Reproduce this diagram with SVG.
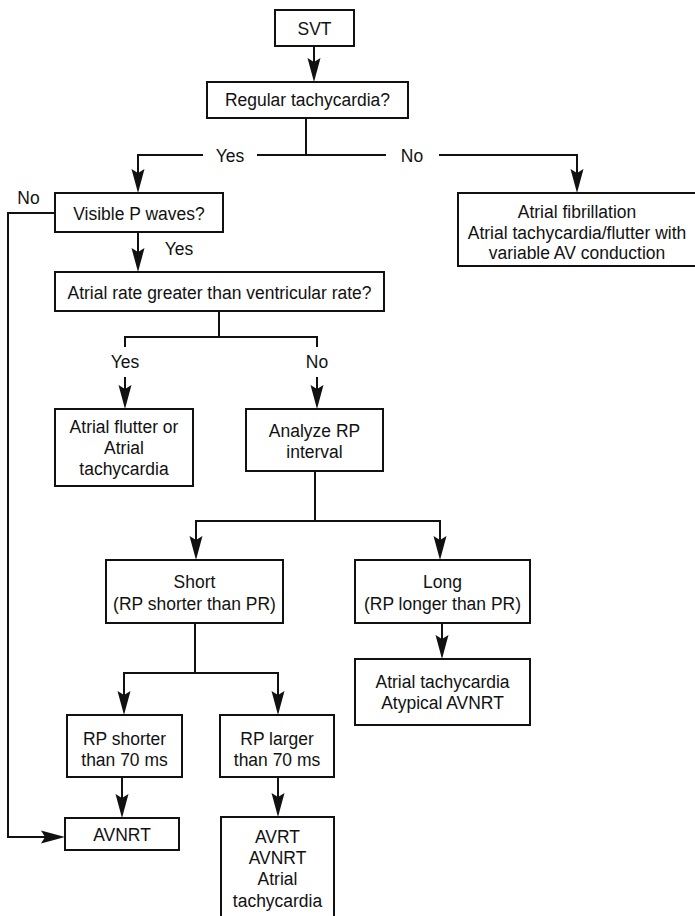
<svg xmlns="http://www.w3.org/2000/svg" width="695" height="916" viewBox="0 0 695 916">
<style>
rect.box{fill:#fff;stroke:#111;stroke-width:2}
path.c{fill:none;stroke:#111;stroke-width:2}
text{font-family:"Liberation Sans",Arial,Helvetica,sans-serif;font-size:19px;text-anchor:middle;fill:#111}
</style>
<defs>
<marker id="ah" viewBox="-16 -8 28 16" refX="0" refY="0" markerWidth="28" markerHeight="16" markerUnits="userSpaceOnUse" orient="auto">
<path d="M10,0 L-14,-6.5 L-10,0 L-14,6.5 Z" fill="#111"/>
</marker>
</defs>
<rect width="695" height="916" fill="#fff"/>
<g id="connectors">
<path class="c" d="M314,46 V72" marker-end="url(#ah)"/>
<path class="c" d="M306,118 V155"/>
<path class="c" d="M203,155 H138 V183" marker-end="url(#ah)"/>
<path class="c" d="M257,155 H386"/>
<path class="c" d="M439,155 H577 V183" marker-end="url(#ah)"/>
<path class="c" d="M138,232 V262" marker-end="url(#ah)"/>
<path class="c" d="M55,213 H8 V837 H55" marker-end="url(#ah)"/>
<path class="c" d="M219,311 V337"/>
<path class="c" d="M125,347 V337 H317 V347"/>
<path class="c" d="M125,377 V399" marker-end="url(#ah)"/>
<path class="c" d="M317,377 V399" marker-end="url(#ah)"/>
<path class="c" d="M315,471 V521 H196 V550" marker-end="url(#ah)"/>
<path class="c" d="M315,521 H440 V550" marker-end="url(#ah)"/>
<path class="c" d="M442,623 V649" marker-end="url(#ah)"/>
<path class="c" d="M195,623 V673 H124 V705" marker-end="url(#ah)"/>
<path class="c" d="M195,673 H278 V705" marker-end="url(#ah)"/>
<path class="c" d="M122,777 V808" marker-end="url(#ah)"/>
<path class="c" d="M278,777 V807" marker-end="url(#ah)"/>
<text transform="translate(230,162) scale(0.92,1)">Yes</text>
<text transform="translate(412,162) scale(0.92,1)">No</text>
<text transform="translate(28.5,204) scale(0.92,1)">No</text>
<text transform="translate(179,255) scale(0.92,1)">Yes</text>
<text transform="translate(125,368) scale(0.92,1)">Yes</text>
<text transform="translate(317,368) scale(0.92,1)">No</text>
</g>
<g id="svt">
<rect class="box" x="275" y="10" width="79" height="36"/>
<text transform="translate(314.5,35) scale(0.92,1)">SVT</text>
</g>
<g id="regular">
<rect class="box" x="207" y="82" width="201" height="36"/>
<text transform="translate(307.5,106) scale(0.92,1)">Regular tachycardia?</text>
</g>
<g id="visible-p">
<rect class="box" x="55" y="193" width="168" height="39"/>
<text transform="translate(139,220) scale(0.92,1)">Visible P waves?</text>
</g>
<g id="afib">
<rect class="box" x="458" y="193" width="240" height="73"/>
<text transform="translate(577,218) scale(0.92,1)">Atrial fibrillation</text>
<text transform="translate(577,238.5) scale(0.92,1)">Atrial tachycardia/flutter with</text>
<text transform="translate(577,259) scale(0.92,1)">variable AV conduction</text>
</g>
<g id="atrial-rate">
<rect class="box" x="55" y="272" width="329" height="39"/>
<text transform="translate(219.5,299) scale(0.92,1)">Atrial rate greater than ventricular rate?</text>
</g>
<g id="flutter">
<rect class="box" x="55" y="409" width="138" height="77"/>
<text transform="translate(124,433) scale(0.92,1)">Atrial flutter or</text>
<text transform="translate(124,454) scale(0.92,1)">Atrial</text>
<text transform="translate(124,475) scale(0.92,1)">tachycardia</text>
</g>
<g id="analyze">
<rect class="box" x="246" y="409" width="137" height="62"/>
<text transform="translate(314.5,437) scale(0.92,1)">Analyze RP</text>
<text transform="translate(314.5,458) scale(0.92,1)">interval</text>
</g>
<g id="short">
<rect class="box" x="106" y="560" width="177" height="63"/>
<text transform="translate(194.5,588) scale(0.92,1)">Short</text>
<text transform="translate(194.5,610) scale(0.92,1)">(RP shorter than PR)</text>
</g>
<g id="long">
<rect class="box" x="355" y="560" width="175" height="63"/>
<text transform="translate(442.5,588) scale(0.92,1)">Long</text>
<text transform="translate(442.5,610) scale(0.92,1)">(RP longer than PR)</text>
</g>
<g id="atach-atypical">
<rect class="box" x="355" y="659" width="175" height="66"/>
<text transform="translate(442.5,688) scale(0.92,1)">Atrial tachycardia</text>
<text transform="translate(442.5,709) scale(0.92,1)">Atypical AVNRT</text>
</g>
<g id="rp-shorter">
<rect class="box" x="67" y="715" width="115" height="62"/>
<text transform="translate(124.5,745) scale(0.92,1)">RP shorter</text>
<text transform="translate(124.5,766) scale(0.92,1)">than 70 ms</text>
</g>
<g id="rp-larger">
<rect class="box" x="220" y="715" width="114" height="62"/>
<text transform="translate(277,745) scale(0.92,1)">RP larger</text>
<text transform="translate(277,766) scale(0.92,1)">than 70 ms</text>
</g>
<g id="avnrt">
<rect class="box" x="65" y="818" width="114" height="32"/>
<text transform="translate(122,841) scale(0.92,1)">AVNRT</text>
</g>
<g id="avrt-group">
<rect class="box" x="221" y="817" width="113" height="102"/>
<text transform="translate(277.5,843) scale(0.92,1)">AVRT</text>
<text transform="translate(277.5,864) scale(0.92,1)">AVNRT</text>
<text transform="translate(277.5,885) scale(0.92,1)">Atrial</text>
<text transform="translate(277.5,907) scale(0.92,1)">tachycardia</text>
</g>
</svg>
